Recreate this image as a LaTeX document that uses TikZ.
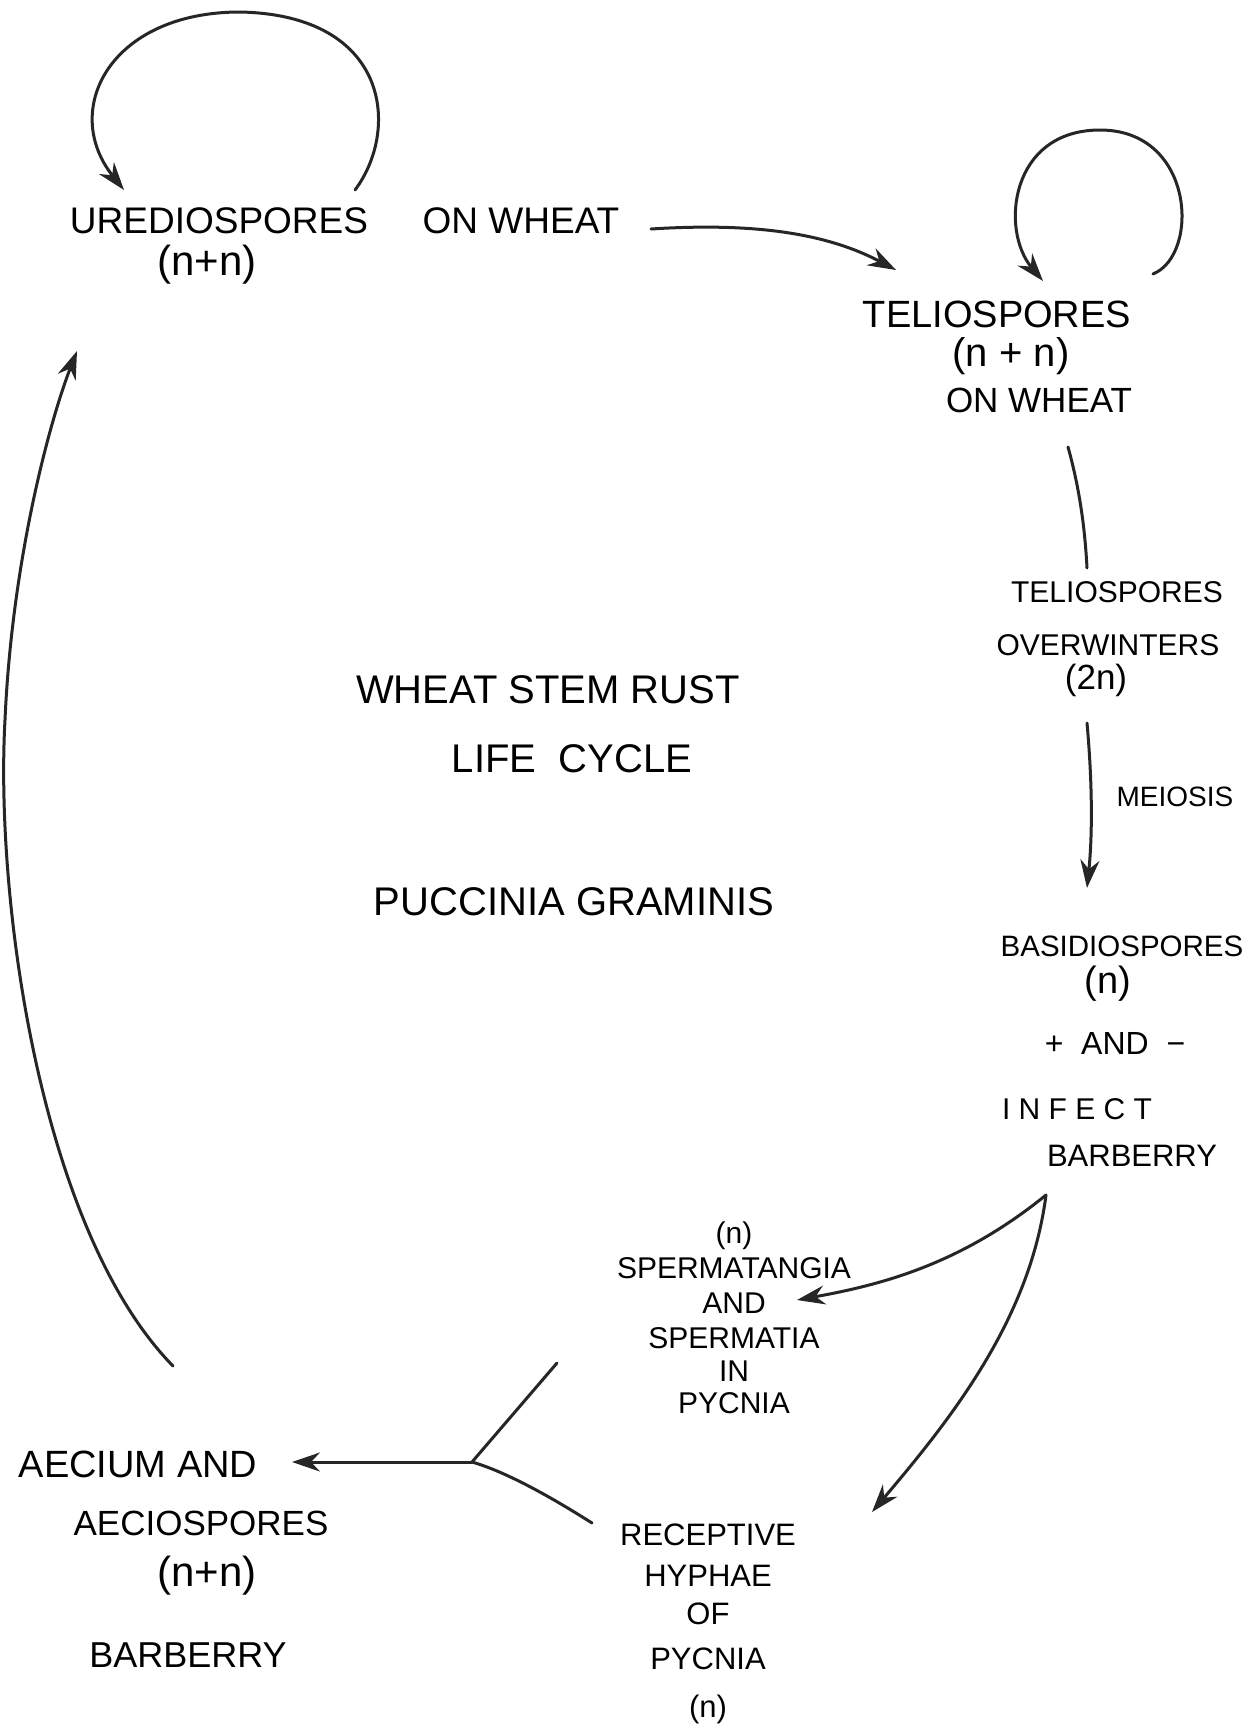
\documentclass[tikz,border=0pt]{standalone}
\usepackage{fontspec}
\setmainfont{Liberation Sans}
\usetikzlibrary{arrows.meta}
\begin{document}
\begin{tikzpicture}[x=1pt,y=-1pt,
  lbl/.style={inner sep=0pt,anchor=center,font=\fontsize{#1}{#1}\selectfont},
  lbl/.default=36,
  pen/.style={line width=3pt,line cap=round,black!85},
  arr/.style={pen,-{Stealth[length=28pt,width=19pt]}}]
\useasboundingbox (0,0) rectangle (1260,1730);
\fill[white] (0,0) rectangle (1260,1730);

% --- labels ---
\node[lbl=37] (uredA) at (219,221) {UREDIOSPORES};
\node[lbl=37] (uredB) at (521,221) {ON WHEAT};
\node[lbl=42] (urednn) at (207,265) {(n+n)};

\node[lbl=38] (telA) at (997,314) {TELIOSPORES};
\node[lbl=40] (telB) at (1011,356) {(n + n)};
\node[lbl=35] (telC) at (1039,400) {ON WHEAT};

\node[lbl=30] (ovA) at (1117,592) {TELIOSPORES};
\node[lbl=30] (ovB) at (1108,645) {OVERWINTERS};
\node[lbl=35] (ovC) at (1096,680) {(2n)};
\node[lbl=28] (mei) at (1175,797) {MEIOSIS};

\node[lbl=29.5] (basA) at (1122,946) {BASIDIOSPORES};
\node[lbl=38] (basB) at (1108,984) {(n)};
\node[lbl=32] (basC) at (1115,1043) {+ \ AND \ \symbol{"2212}};
\node[lbl=30] (basD) at (1077,1109) {I N F E C T};
\node[lbl=31] (basE) at (1132,1156) {BARBERRY};

\node[lbl=40] (titA) at (548,690) {WHEAT STEM RUST};
\node[lbl=40] (titB) at (572,759) {LIFE \ CYCLE};
\node[lbl=40] (titC) at (574,902) {PUCCINIA GRAMINIS};

\node[lbl=30,align=center] (sperm) at (734,1318)
  {(n)\\[5pt]SPERMATANGIA\\[5pt]AND\\[5pt]SPERMATIA\\[3pt]IN\\[2pt]PYCNIA};

\node[lbl=31,align=center] (recep) at (708,1624)
  {RECEPTIVE\\[10pt]HYPHAE\\[7pt]OF\\[14pt]PYCNIA\\[17pt](n)};

\node[lbl=38] (aecA) at (138,1464) {AECIUM AND};
\node[lbl=35] (aecB) at (201,1523) {AECIOSPORES};
\node[lbl=42] (aecC) at (207,1576) {(n+n)};
\node[lbl=36] (aecD) at (188,1655) {BARBERRY};

% --- connector end points ---
\coordinate (loopAin) at (355,190);
\coordinate (loopAout) at (124,190);
\coordinate (uredOut) at (651,229);
\coordinate (telIn) at (896,270);
\coordinate (loopBin) at (1153,274);
\coordinate (loopBout) at (1043,281);
\coordinate (telOut) at (1068,447);
\coordinate (ovIn) at (1087,568);
\coordinate (ovOut) at (1087,723);
\coordinate (basIn) at (1087,888);
\coordinate (basOut) at (1046,1195);
\coordinate (spermIn) at (797,1300);
\coordinate (recepIn) at (872,1512);
\coordinate (spermOut) at (557,1363);
\coordinate (recepOut) at (592,1523);
\coordinate (junc) at (472,1462);
\coordinate (aecIn) at (292,1462);
\coordinate (aecOut) at (173,1366);
\coordinate (uredIn) at (77,351);

% --- connectors ---
\draw[arr] (loopAin) .. controls (400,130) and (390,15) .. (240,12)
  .. controls (110,12) and (60,110) .. (loopAout);
\draw[arr] (uredOut) .. controls (760,222) and (830,235) .. (telIn);
\draw[arr] (loopBin) .. controls (1200,255) and (1195,130) .. (1100,130)
  .. controls (1010,130) and (1000,230) .. (loopBout);
\draw[pen] (telOut) .. controls (1080,490) and (1085,530) .. (ovIn);
\draw[arr] (ovOut) .. controls (1093,790) and (1092,840) .. (basIn);
\draw[arr] (basOut) .. controls (960,1265) and (880,1285) .. (spermIn);
\draw[arr] (basOut) .. controls (1030,1320) and (950,1420) .. (recepIn);
\draw[pen] (spermOut) -- (junc);
\draw[pen] (recepOut) .. controls (540,1490) and (500,1470) .. (junc);
\draw[arr] (junc) -- (aecIn);
\draw[arr] (aecOut) .. controls (40,1230) and (-5,900) .. (5,720)
  .. controls (12,560) and (50,420) .. (uredIn);
\end{tikzpicture}
\end{document}
